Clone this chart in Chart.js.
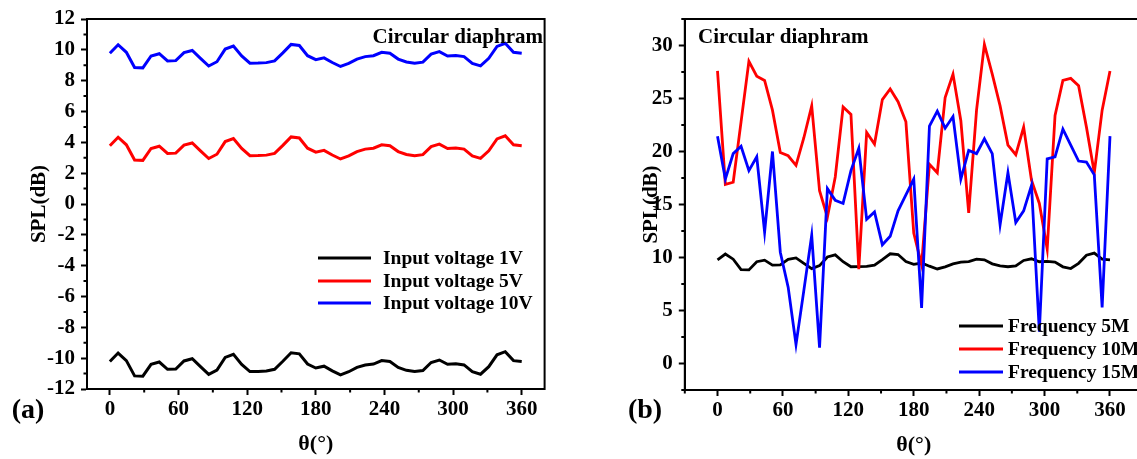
<!DOCTYPE html>
<html><head><meta charset="utf-8">
<script src="https://cdn.jsdelivr.net/npm/chart.js@4.4.0/dist/chart.umd.min.js"></script>
<style>
html,body{margin:0;padding:0;background:#fff;overflow:hidden;width:1137px;height:459px;position:relative}
#c1{position:absolute;left:0;top:0}
#c2{position:absolute;left:580px;top:0}
</style></head><body>
<canvas id="c1" width="570" height="459"></canvas>
<canvas id="c2" width="580" height="459"></canvas>
<script>
// angles (degrees)
const theta = [0,7.2,14.4,21.6,28.8,36,43.2,50.4,57.6,64.8,72,79.2,86.4,93.6,100.8,108,115.2,122.4,129.6,136.8,144,151.2,158.4,165.6,172.8,180,187.2,194.4,201.6,208.8,216,223.2,230.4,237.6,244.8,252,259.2,266.4,273.6,280.8,288,295.2,302.4,309.6,316.8,324,331.2,338.4,345.6,352.8,360];

// panel (a): input voltage series, SPL(dB)
const v1 = [-10.22,-9.67,-10.16,-11.15,-11.17,-10.4,-10.25,-10.72,-10.7,-10.18,-10.04,-10.55,-11.05,-10.77,-9.95,-9.75,-10.4,-10.87,-10.86,-10.83,-10.72,-10.2,-9.65,-9.72,-10.38,-10.64,-10.52,-10.82,-11.08,-10.88,-10.6,-10.44,-10.38,-10.16,-10.22,-10.6,-10.79,-10.87,-10.8,-10.28,-10.12,-10.4,-10.37,-10.44,-10.88,-11.04,-10.55,-9.78,-9.58,-10.16,-10.22];
const v5 = [3.78,4.33,3.84,2.85,2.83,3.6,3.75,3.28,3.3,3.82,3.96,3.45,2.95,3.23,4.05,4.25,3.6,3.13,3.14,3.17,3.28,3.8,4.35,4.28,3.62,3.36,3.48,3.18,2.92,3.12,3.4,3.56,3.62,3.84,3.78,3.4,3.21,3.13,3.2,3.72,3.88,3.6,3.63,3.56,3.12,2.96,3.45,4.22,4.42,3.84,3.78];
const v10 = [9.78,10.33,9.84,8.85,8.83,9.6,9.75,9.28,9.3,9.82,9.96,9.45,8.95,9.23,10.05,10.25,9.6,9.13,9.14,9.17,9.28,9.8,10.35,10.28,9.62,9.36,9.48,9.18,8.92,9.12,9.4,9.56,9.62,9.84,9.78,9.4,9.21,9.13,9.2,9.72,9.88,9.6,9.63,9.56,9.12,8.96,9.45,10.22,10.42,9.84,9.78];

// panel (b): frequency series, SPL(dB)
const f5 = [9.78,10.33,9.84,8.85,8.83,9.6,9.75,9.28,9.3,9.82,9.96,9.45,8.95,9.23,10.05,10.25,9.6,9.13,9.14,9.17,9.28,9.8,10.35,10.28,9.62,9.36,9.48,9.18,8.92,9.12,9.4,9.56,9.62,9.84,9.78,9.4,9.21,9.13,9.2,9.72,9.88,9.6,9.63,9.56,9.12,8.96,9.45,10.22,10.42,9.84,9.78];
const f10 = [27.6,16.9,17.1,22.8,28.5,27.1,26.7,23.9,19.9,19.6,18.7,21.3,24.3,16.3,13.8,17.6,24.2,23.5,8.9,21.8,20.7,24.9,25.9,24.7,22.8,12.3,9.3,18.8,18.0,25.1,27.3,22.9,14.2,23.9,30.1,27.3,24.3,20.6,19.7,22.3,17.3,15.1,10.8,23.4,26.7,26.9,26.2,22.3,18.0,23.9,27.6];
const f15 = [21.45,17.4,19.8,20.5,18.2,19.5,12.4,20.0,10.5,7.2,1.8,6.9,12.1,1.5,16.5,15.4,15.1,18.2,20.3,13.6,14.3,11.2,12.0,14.4,15.9,17.4,5.25,22.4,23.8,22.2,23.3,17.4,20.1,19.8,21.2,19.8,13.1,18.0,13.3,14.4,16.8,3.0,19.3,19.5,22.1,20.6,19.1,19.0,17.8,5.3,21.45];

// tick labels
const xTicks = [0,60,120,180,240,300,360];
const xMinorA = [30,90,150,210,270,330];
const xMinorB = [-30,30,90,150,210,270,330];
const yTicksA = [-12,-10,-8,-6,-4,-2,0,2,4,6,8,10,12];
const yMinorA = [-11,-9,-7,-5,-3,-1,1,3,5,7,9,11];
const yTicksB = [0,5,10,15,20,25,30];
const yMinorB = [-2.5,2.5,7.5,12.5,17.5,22.5,27.5,32.5];

const labelsA = ['Input voltage 1V','Input voltage 5V','Input voltage 10V'];
const labelsB = ['Frequency 5M','Frequency 10M','Frequency 15M'];
const colors = ['#000000','#ff0000','#0000ff'];

const FONT = '"Liberation Serif","Times New Roman",serif';
const pts = v => theta.map((t,i)=>({x:t,y:v[i]}));

const deco = {
  id:'deco',
  afterDatasetsDraw(chart, args, o) {
    const ctx = chart.ctx, a = chart.chartArea;
    const xs = chart.scales.x, ys = chart.scales.y;
    ctx.save();
    // frame
    ctx.strokeStyle = '#000'; ctx.lineWidth = 2;
    ctx.strokeRect(a.left, a.top, a.right - a.left, a.bottom - a.top);
    // minor ticks
    ctx.lineWidth = 2;
    ctx.beginPath();
    o.minorX.forEach(v => { const p = xs.getPixelForValue(v); ctx.moveTo(p, a.bottom); ctx.lineTo(p, a.bottom + 3.5); });
    o.minorY.forEach(v => { const p = ys.getPixelForValue(v); ctx.moveTo(a.left - 3.5, p); ctx.lineTo(a.left, p); });
    ctx.stroke();
    // legend
    ctx.font = 'bold ' + o.legend.size + 'px ' + FONT;
    ctx.textBaseline = 'middle'; ctx.textAlign = 'left';
    chart.data.datasets.forEach((d, i) => {
      const y = o.legend.ys[i];
      ctx.strokeStyle = d.borderColor; ctx.lineWidth = 3;
      ctx.beginPath(); ctx.moveTo(o.legend.x0, y); ctx.lineTo(o.legend.x1, y); ctx.stroke();
      ctx.fillStyle = '#000';
      ctx.fillText(d.label, o.legend.tx, y + 1);
    });
    // title
    ctx.font = 'bold 21px ' + FONT;
    ctx.textAlign = o.title.align;
    ctx.fillText(o.title.text, o.title.x, o.title.y);
    // panel label
    ctx.font = 'bold 28px ' + FONT;
    ctx.textAlign = 'center';
    ctx.fillText(o.panel.text, o.panel.x, o.panel.y);
    ctx.restore();
  }
};

function makeScales(cfg) {
  const tickFont = {family: FONT, size: 21, weight: 'bold'};
  const grid = {drawOnChartArea:false, drawTicks:true, tickLength:6, tickWidth:2, tickColor:'#000'};
  return {
    x: {
      type:'linear', min: cfg.xmin, max: cfg.xmax,
      afterBuildTicks: s => { s.ticks = xTicks.map(v => ({value:v})); },
      ticks: {font: tickFont, color:'#000', padding: 2, maxRotation:0, autoSkip:false},
      grid: grid, border: {color:'#000', width:2},
      title: {display:true, text:'θ(°)', color:'#000', font:{family:FONT, size:22, weight:'bold'}, padding:{top:0, bottom: cfg.xTitlePad}},
      afterFit: s => { s.height = cfg.xh; }
    },
    y: {
      type:'linear', min: cfg.ymin, max: cfg.ymax,
      afterBuildTicks: s => { s.ticks = cfg.yTicks.map(v => ({value:v})); },
      ticks: {font: tickFont, color:'#000', padding: 6, autoSkip:false},
      grid: grid, border: {color:'#000', width:2},
      title: {display:true, text:'SPL(dB)', color:'#000', font:{family:FONT, size:21, weight:'bold'}, padding:{top: cfg.yTitlePad, bottom:0}},
      afterFit: s => { s.width = cfg.yw; }
    }
  };
}

function ds(labels, arrs, width) {
  return arrs.map((v, i) => ({
    label: labels[i], data: pts(v), borderColor: colors[i], backgroundColor: colors[i],
    borderWidth: width, pointRadius: 0, tension: 0, fill: false, order: 2 - i
  }));
}

new Chart(document.getElementById('c1'), {
  type:'line',
  data:{datasets: ds(labelsA, [v1, v5, v10], 3)},
  options:{
    responsive:false, animation:false, devicePixelRatio:1,
    layout:{padding:{left:0, top:19, right:25.4, bottom:0}},
    scales: makeScales({xmin:-20, xmax:380, ymin:-12, ymax:12, yTicks:yTicksA, xh:70, yw:87, xTitlePad:1, yTitlePad:27}),
    plugins:{
      legend:{display:false}, tooltip:{enabled:false},
      deco:{minorX:xMinorA, minorY:yMinorA,
        legend:{x0:318, x1:371, tx:383, ys:[258,281,303], size:19.5},
        title:{text:'Circular diaphram', x:543, y:38, align:'right'},
        panel:{text:'(a)', x:28, y:411}}
    }
  },
  plugins:[deco]
});

new Chart(document.getElementById('c2'), {
  type:'line',
  data:{datasets: ds(labelsB, [f5, f10, f15], 2.8)},
  options:{
    responsive:false, animation:false, devicePixelRatio:1,
    layout:{padding:{left:0, top:19, right:17.3, bottom:0}},
    scales: makeScales({xmin:-30, xmax:390, ymin:-2.5, ymax:32.5, yTicks:yTicksB, xh:69, yw:104.8, xTitlePad:0, yTitlePad:59}),
    plugins:{
      legend:{display:false}, tooltip:{enabled:false},
      deco:{minorX:xMinorB, minorY:yMinorB,
        legend:{x0:379, x1:423, tx:428, ys:[326,349,372], size:19.5},
        title:{text:'Circular diaphram', x:118, y:38, align:'left'},
        panel:{text:'(b)', x:65, y:411}}
    }
  },
  plugins:[deco]
});
</script>
</body></html>
